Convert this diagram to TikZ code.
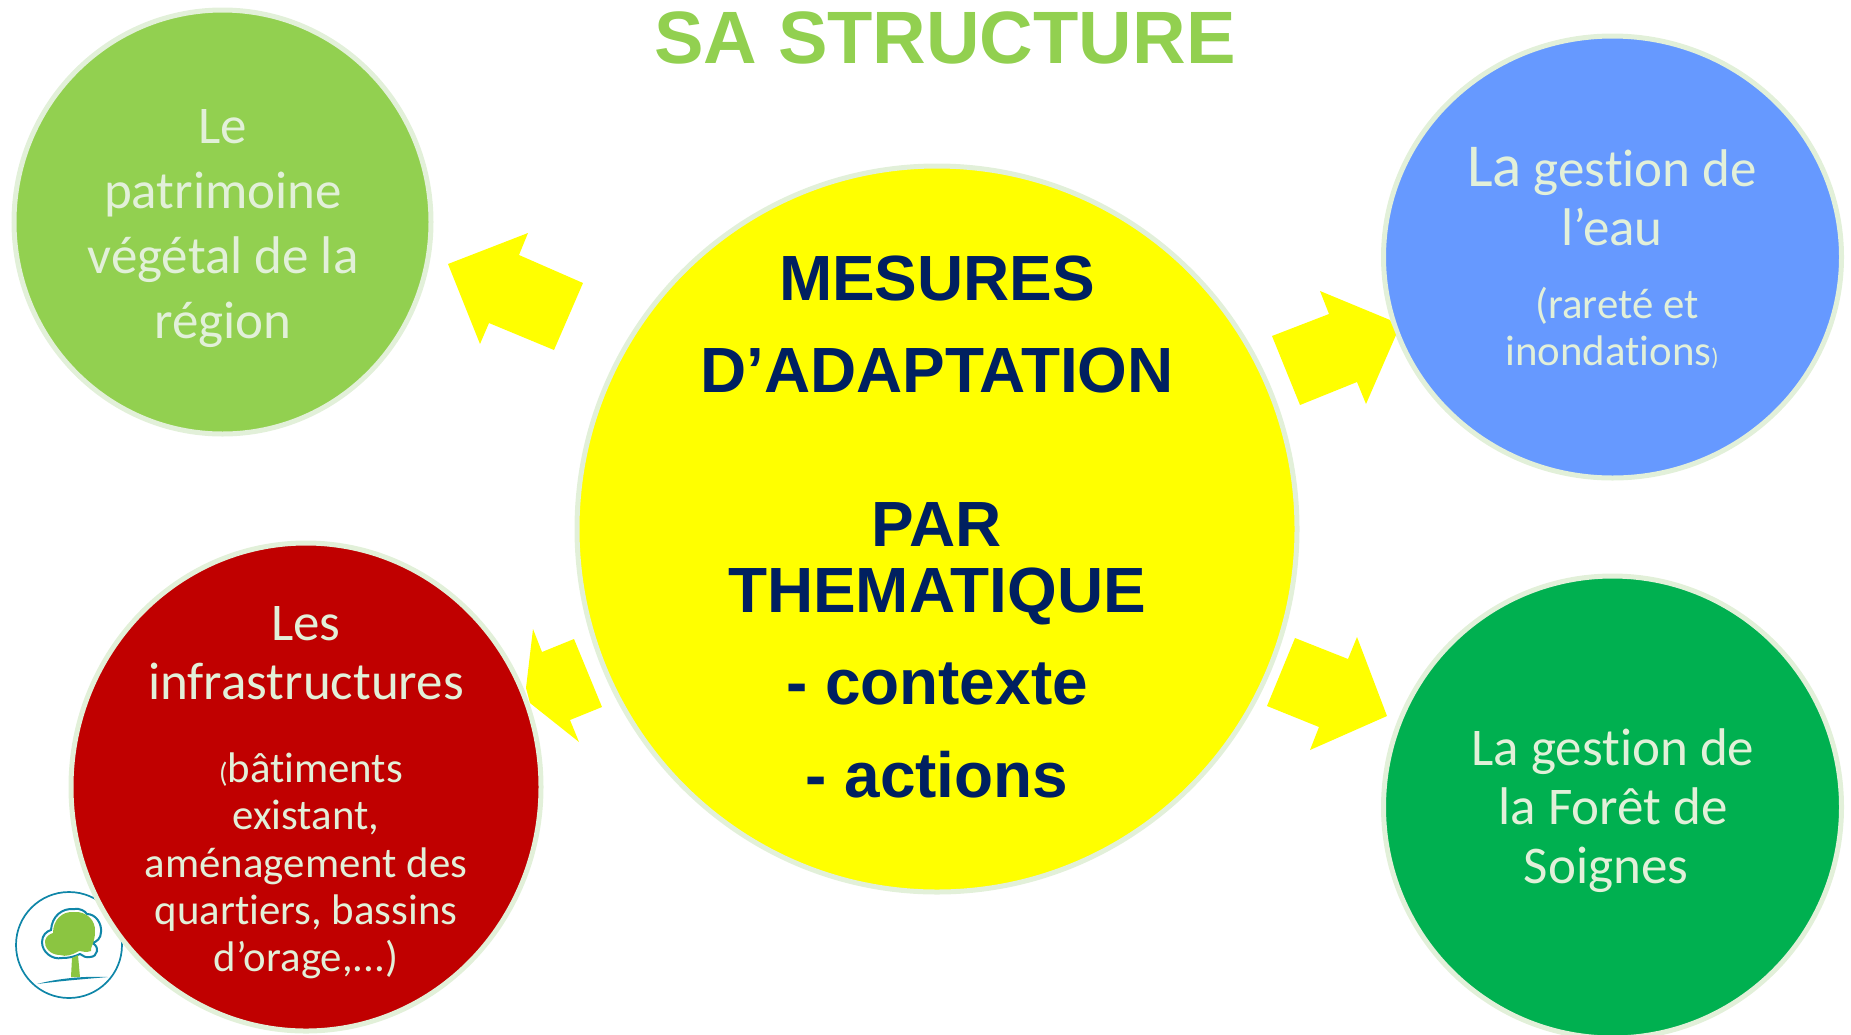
\documentclass[tikz,border=0pt]{standalone}
\usepackage{fontspec}
\setmainfont[Ligatures=NoCommon]{Carlito}
\newfontfamily\headfont{Liberation Sans}
\definecolor{rim}{HTML}{E2F0D9}
\definecolor{leaf}{HTML}{92D050}
\definecolor{sky}{HTML}{6699FF}
\definecolor{wine}{HTML}{C00000}
\definecolor{forest}{HTML}{00B050}
\definecolor{navy}{HTML}{002060}
\definecolor{sun}{HTML}{FFFF00}
\definecolor{logoblue}{HTML}{0F86A8}
\definecolor{logoleaf}{HTML}{8BC541}
\tikzset{
  x=1pt,y=-1pt,
  disc/.style={draw=rim,line width=5pt},
  pointer/.style={fill=sun,draw=none},
  lbl/.style={text=rim,align=center,inner sep=0pt},
  bigl/.style={lbl,font=\fontsize{53}{65}\selectfont},
  midl/.style={lbl,font=\fontsize{53}{59}\selectfont},
  smll/.style={lbl,font=\fontsize{42.8}{47.3}\selectfont},
  head/.style={text=navy,align=center,inner sep=0pt,font=\headfont\bfseries\fontsize{63.9}{66}\selectfont},
}
\begin{document}
\begin{tikzpicture}
\useasboundingbox (0,0) rectangle (1851,1034);
% logo
\begin{scope}
\draw[logoblue,line width=1.7pt] (69,945) circle [radius=53];
\fill[white,draw=logoblue,line width=2pt] (62,958) .. controls (52,960) and (42,952) .. (42,942)
  .. controls (42,935) and (47,931) .. (51,930) .. controls (52,916) and (62,908) .. (74,909)
  .. controls (80,908) and (85,911) .. (87,914) .. controls (96,914) and (102,924) .. (101,932)
  .. controls (101,938) and (97,942) .. (92,943) .. controls (100,946) and (98,957) .. (90,957)
  .. controls (86,958) and (83,956) .. (80,954) .. controls (74,957) and (68,958) .. (62,958) -- cycle;
\fill[logoleaf] (72,958) -- (78,955) -- (80,977) -- (71,977) -- cycle;
\fill[logoleaf] (60,955) .. controls (50,955) and (44,947) .. (45,941)
  .. controls (46,936) and (50,934) .. (53,933) .. controls (53,920) and (62,911) .. (74,912)
  .. controls (86,911) and (96,920) .. (95,932) .. controls (95,942) and (90,948) .. (91,951)
  .. controls (86,953) and (82,951) .. (79,951) .. controls (72,955) and (66,957) .. (60,955) -- cycle;
\fill[logoblue] (37,984) .. controls (60,978) and (85,976) .. (108,977)
  .. controls (85,979) and (60,981) .. (37,984) -- cycle;
\end{scope}
% circles
\path[disc,fill=leaf] (222.5,222) ellipse [x radius=208.5,y radius=212];
\path[disc,fill=sky] (1612.5,257) ellipse [x radius=229,y radius=221];
\path[disc,fill=sun] (937,529) ellipse [x radius=360,y radius=363];
\path[disc,fill=wine] (306,787) ellipse [x radius=235,y radius=244];
\path[disc,fill=forest] (1612.5,807) ellipse [x radius=229,y radius=231];
% arrows
\fill[pointer] (448,264) -- (528,233) -- (519,255) -- (583,283) -- (554,350) -- (489,323) -- (480,344) -- cycle;
\fill[pointer] (1272,336) -- (1329,314) -- (1320,291) -- (1390,320) -- (1396,335) -- (1366,404) -- (1357,382) -- (1300,405) -- cycle;
\fill[pointer] (533,629) -- (542,652) -- (574,639) -- (602,707) -- (570,720) -- (579,742) -- (530,703) -- (526,688) -- cycle;
\fill[pointer] (1295,638) -- (1348,659) -- (1357,637) -- (1387,716) -- (1310,750) -- (1319,727) -- (1267,706) -- cycle;
% title
\node[inner sep=0pt,text=leaf,font=\headfont\bfseries\fontsize{74.2}{80}\selectfont] (title) at (945,38) {SA STRUCTURE};
% texts
\node[bigl] (tgreen) at (223,229) {Le\\patrimoine\\végétal de la\\région};
\node[midl] (tblue) at (1612,197) {{\fontsize{61}{59}\selectfont La} gestion de\\l’eau};
\node[smll] (tblueb) at (1612,328) {\hspace{10pt}(rareté et\\inondations{\fontsize{24}{47}\selectfont)}};
\node[midl] (tred) at (306,653) {Les\\infrastructures};
\node[smll] (tredb) at (306,866) {\hspace{10pt}{\fontsize{28}{47}\selectfont(}bâtiments\\existant,\\aménagement des\\quartiers, bassins\\d’orage,...)};
\node[midl] (tforest) at (1613,811) {La gestion de\\la Forêt de\\\mbox{Soignes\kern14pt}};
\node[head] (m1) at (937,278) {MESURES};
\node[head] (m2) at (937,370) {D’ADAPTATION};
\node[head] (m3) at (937,564) {PAR\\THEMATIQUE};
\node[head] (m4) at (937,684) {- contexte};
\node[head] (m5) at (937,775) {- actions};
\end{tikzpicture}
\end{document}
